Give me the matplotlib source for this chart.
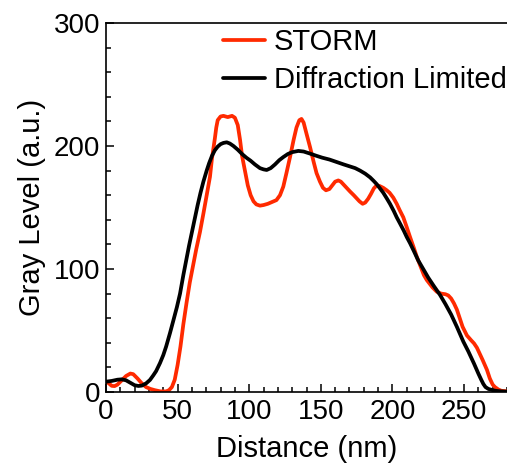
import matplotlib
matplotlib.use("Agg")
import matplotlib.pyplot as plt
from matplotlib.ticker import MultipleLocator

plt.rcParams['font.family'] = ['Liberation Sans', 'DejaVu Sans']

storm_x = [0, 2, 4, 6, 8, 11, 14, 17, 19, 22, 25, 28, 31, 34, 38, 42, 44, 46, 48, 50, 52, 54, 56.3,
           58.5, 61, 63, 65.6, 68, 70, 72.6, 74, 76, 77, 78, 80, 82, 85, 88, 90, 92, 93.6, 95, 97,
           99, 101, 103, 105, 107.5, 110, 113, 116, 119, 121.5, 123.8, 126, 128.5, 131, 133, 135,
           136.5, 138, 140, 142.5, 145, 147, 149.4, 151.5, 153.6, 156, 158, 160, 162.2, 164, 166,
           168, 170.4, 173, 175, 177, 179.2, 181, 183, 185, 187, 189, 191, 193.6, 196, 198, 200.6,
           203, 205, 207.6, 210, 212.3, 215, 217, 220, 222, 224, 226, 228, 231, 234, 237, 239,
           241, 243, 245, 247, 249, 252, 255, 257, 259, 261, 263, 266, 268, 270, 271.6, 274, 276,
           280]
storm_y = [8.4, 7, 5, 4.8, 6, 9.5, 13, 15, 14.5, 11, 7, 4, 2.5, 1.5, 0.5, 0.5, 1.5, 4, 10, 22, 37, 55,
           73, 89, 104, 116, 130, 145, 158, 175, 190, 206, 215, 221, 224, 224.5, 223.5, 224.5, 223,
           217, 205, 192, 180, 168, 160, 155, 152.5, 151.5, 152, 153, 154.5, 156, 160, 167, 178,
           191, 205, 215, 221, 222, 219, 210, 199, 187, 178, 171, 166, 164, 165, 168, 171, 172,
           171, 168.5, 166, 163, 160, 157.5, 155, 153, 154, 157, 161, 165.5, 168, 167.5, 166, 164,
           162, 158, 153, 148, 142, 134, 126, 117, 110, 101, 95, 91, 88, 85, 81.5, 80, 79.5, 78.5,
           76, 72, 67, 60, 53, 46, 42, 39.5, 36, 31, 26, 18, 11, 6, 4, 2, 1, 0.5]

diff_x = [0, 4, 8, 11, 14, 17, 20, 22.6, 25, 28, 30.7, 33, 35, 37.7, 40, 42, 44.7, 47, 49.5, 51.7,
          54, 56, 58, 60, 62, 64, 66, 68, 70.3, 72, 74, 76, 78, 80, 82, 84.3, 86.5, 89, 92, 95,
          98, 101, 104, 107.5, 110, 112.2, 115, 118, 121, 123.8, 127, 130, 134.3, 138, 142, 147,
          151, 156, 161, 166, 170, 174, 177.4, 181, 184.4, 187, 189, 191, 193.6, 196, 198.3, 201,
          203, 205.3, 208, 210, 212.3, 215, 218, 221, 225, 229, 233.2, 237, 241, 245, 249.5, 253,
          257, 260, 262, 263.5, 265, 267, 270, 272, 276, 280]
diff_y = [8.4, 9, 10, 10.3, 9.5, 7.5, 5.5, 4.9, 5.2, 7, 9.8, 13.5, 17, 23.5, 30, 37, 48, 58, 69, 80,
          95, 107, 119, 130, 141, 152, 162, 171, 180, 186, 192, 196.5, 199.5, 201.5, 202.5, 203,
          202, 200, 197, 193.5, 190.5, 188, 185, 182, 181, 180.5, 182, 185, 188.5, 191, 193.5,
          195, 196, 195.5, 194, 192, 190.5, 189, 187, 185, 183.5, 182, 180, 177.5, 174.5, 171.5,
          169, 166, 162, 157.5, 153, 147, 142, 137, 131, 126, 121, 114.5, 107, 101, 93, 86, 79,
          71.5, 63, 53, 41, 33, 23, 15, 10, 6.5, 4, 2.5, 1.5, 1, 0.5, 0.3]

xticks = [0, 50, 100, 150, 200, 250]
yticks = [0, 100, 200, 300]

fig = plt.figure(figsize=(5.07, 4.68), dpi=100)
ax = fig.add_axes([106/507, 1-392/468, 1-106/507, (392-23)/468])

ax.plot(storm_x, storm_y, color='#ff2a00', lw=2.7, label='STORM',
        solid_joinstyle='round', solid_capstyle='round')
ax.plot(diff_x, diff_y, color='black', lw=2.7, label='Diffraction Limited',
        solid_joinstyle='round', solid_capstyle='round')

ax.set_xlim(0, 280)
ax.set_ylim(0, 300)
ax.set_xticks(xticks)
ax.set_yticks(yticks)
ax.xaxis.set_minor_locator(MultipleLocator(10))
ax.yaxis.set_minor_locator(MultipleLocator(20))
ax.tick_params(which='both', direction='in', width=1.1, labelsize=20, pad=5)
ax.tick_params(which='major', length=6)
ax.tick_params(which='minor', length=3.5)
ax.tick_params(axis='y', pad=4)
for s in ax.spines.values():
    s.set_linewidth(1.2)
ax.spines['right'].set_visible(False)

ax.set_xlabel('Distance (nm)', fontsize=21, labelpad=7)
ax.set_ylabel('Gray Level (a.u.)', fontsize=21, labelpad=6)

leg = ax.legend(loc='upper right', bbox_to_anchor=(1.0, 0.987), frameon=False, fontsize=21,
                handlelength=1.45, handletextpad=0.3, borderpad=0.0, borderaxespad=0.0,
                labelspacing=0.36)
for h in leg.get_lines():
    h.set_linewidth(2.7)

fig.savefig('out.png', dpi=100)
